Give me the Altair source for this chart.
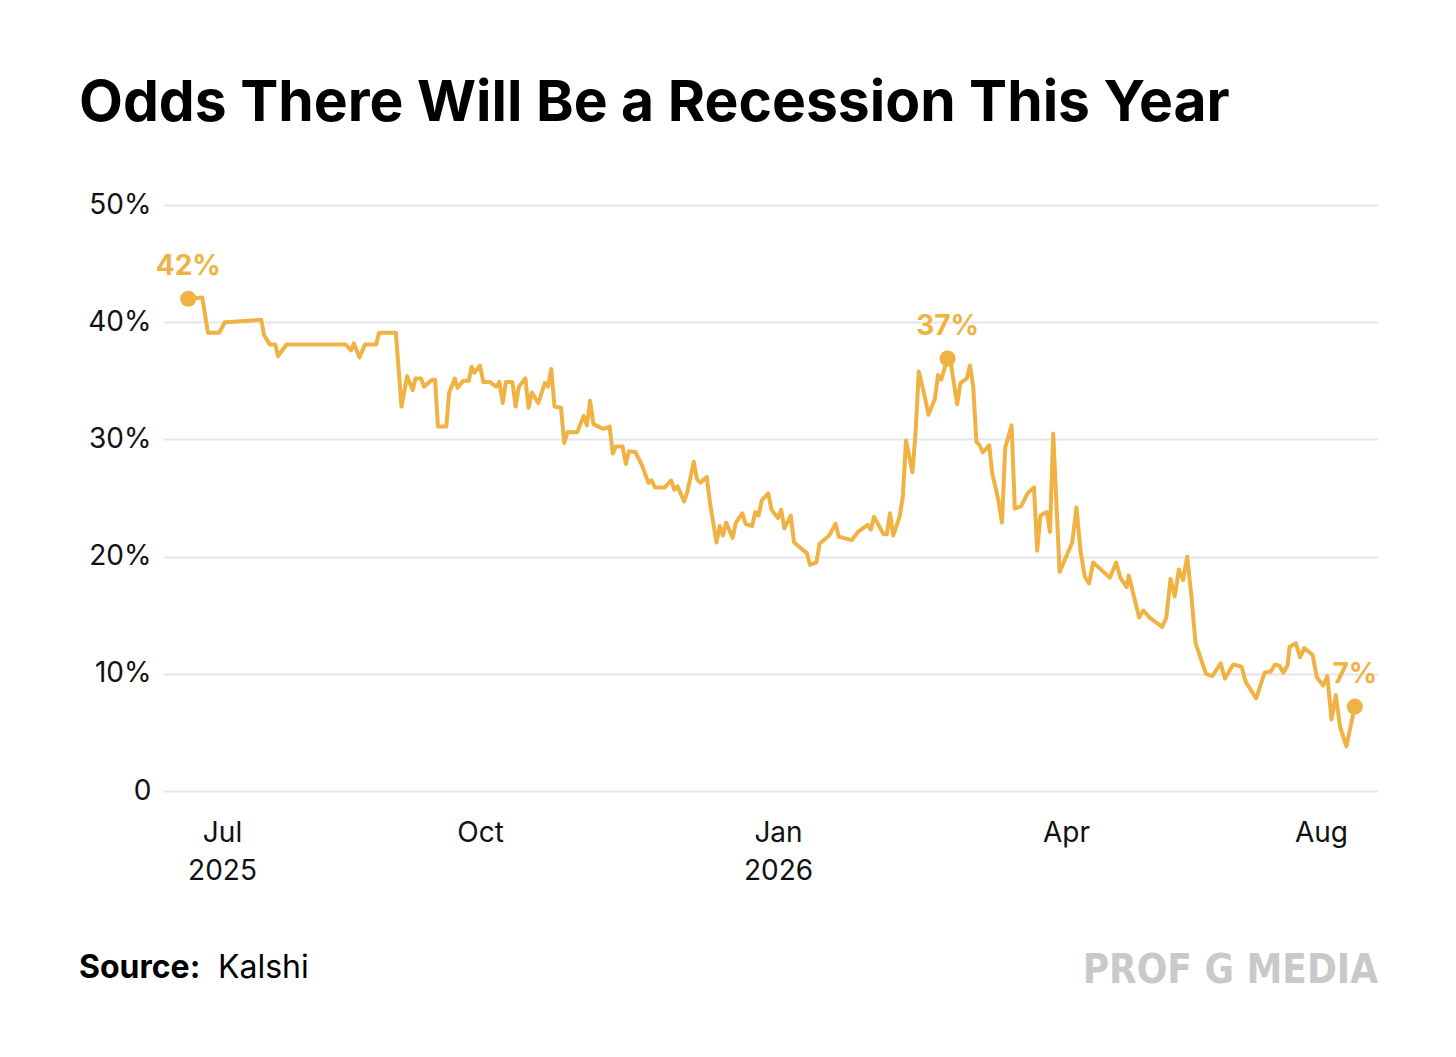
import altair as alt
import pandas as pd

dates = [
 "2025-06-19","2025-06-24","2025-06-26","2025-06-30","2025-07-02","2025-07-15","2025-07-16","2025-07-18","2025-07-20","2025-07-21",
 "2025-07-24","2025-08-14","2025-08-16","2025-08-17","2025-08-19","2025-08-21","2025-08-25","2025-08-26","2025-09-01","2025-09-03",
 "2025-09-05","2025-09-07","2025-09-08","2025-09-10","2025-09-11","2025-09-14","2025-09-15","2025-09-16","2025-09-19","2025-09-20",
 "2025-09-22","2025-09-23","2025-09-25","2025-09-27","2025-09-28","2025-09-29","2025-10-01","2025-10-02","2025-10-04","2025-10-06",
 "2025-10-07","2025-10-08","2025-10-09","2025-10-11","2025-10-12","2025-10-13","2025-10-15","2025-10-16","2025-10-17","2025-10-19",
 "2025-10-21","2025-10-22","2025-10-23","2025-10-24","2025-10-26","2025-10-27","2025-10-28","2025-10-31","2025-11-02","2025-11-03",
 "2025-11-04","2025-11-05","2025-11-08","2025-11-10","2025-11-11","2025-11-12","2025-11-14","2025-11-15","2025-11-16","2025-11-18",
 "2025-11-20","2025-11-22","2025-11-23","2025-11-24","2025-11-27","2025-11-29","2025-11-30","2025-12-01","2025-12-03","2025-12-04",
 "2025-12-06","2025-12-07","2025-12-08","2025-12-10","2025-12-11","2025-12-13","2025-12-14","2025-12-15","2025-12-16","2025-12-18",
 "2025-12-19","2025-12-21","2025-12-22","2025-12-24","2025-12-25","2025-12-26","2025-12-27","2025-12-29","2025-12-30",
 "2026-01-01","2026-01-02","2026-01-03","2026-01-05","2026-01-06","2026-01-10","2026-01-11","2026-01-13","2026-01-14","2026-01-17",
 "2026-01-19","2026-01-20","2026-01-24","2026-01-26","2026-01-29","2026-01-30","2026-01-31","2026-02-03","2026-02-04","2026-02-05",
 "2026-02-06","2026-02-08","2026-02-09","2026-02-10","2026-02-12","2026-02-13","2026-02-14","2026-02-16","2026-02-17","2026-02-19",
 "2026-02-20","2026-02-21","2026-02-23","2026-02-24","2026-02-26","2026-02-27","2026-03-01","2026-03-02","2026-03-03","2026-03-04",
 "2026-03-05","2026-03-06","2026-03-08","2026-03-09","2026-03-10","2026-03-11","2026-03-12","2026-03-13","2026-03-15","2026-03-16",
 "2026-03-18","2026-03-20","2026-03-22","2026-03-23","2026-03-24","2026-03-26","2026-03-27","2026-03-28","2026-03-30","2026-04-04",
 "2026-04-06","2026-04-08","2026-04-10","2026-04-12","2026-04-14","2026-04-22","2026-04-25","2026-04-27","2026-04-30","2026-05-01",
 "2026-05-06","2026-05-08","2026-05-11","2026-05-17","2026-05-19","2026-05-21","2026-05-23","2026-05-25","2026-05-27","2026-05-29",
 "2026-05-31","2026-06-02","2026-06-07","2026-06-10","2026-06-14","2026-06-16","2026-06-20","2026-06-24","2026-06-26","2026-07-01",
 "2026-07-05","2026-07-08","2026-07-10","2026-07-12","2026-07-14","2026-07-16","2026-07-17","2026-07-20","2026-07-22","2026-07-24",
 "2026-07-28","2026-07-30","2026-08-02","2026-08-04","2026-08-06","2026-08-08","2026-08-10","2026-08-13","2026-08-15","2026-08-17",
]
odds = [
 42.0,42.1,39.1,39.1,40.0,40.2,38.9,38.1,38.1,37.1,
 38.1,38.1,37.6,38.2,37.0,38.1,38.1,39.1,39.1,32.8,
 35.4,34.2,35.2,35.2,34.5,35.1,35.1,31.1,31.1,34.0,
 35.2,34.4,35.0,35.0,36.2,35.7,36.3,34.9,34.9,34.5,
 34.9,33.1,34.9,34.9,32.8,34.5,35.2,32.7,34.0,33.1,
 34.8,34.5,36.0,32.8,32.7,29.7,30.6,30.6,32.0,31.2,
 33.3,31.3,30.9,31.1,28.8,29.4,29.4,27.9,29.0,28.9,
 27.8,26.3,26.5,25.9,25.9,26.5,25.7,26.0,24.7,25.5,
 28.1,26.6,26.3,26.8,24.6,21.2,22.6,21.8,22.9,21.6,
 22.9,23.7,22.8,22.6,23.8,23.5,24.8,25.4,24.0,
 23.3,24.0,22.4,23.5,21.2,20.3,19.3,19.5,21.1,21.8,
 22.8,21.7,21.4,22.1,22.7,22.3,23.4,21.9,21.9,23.7,
 21.8,23.4,25.1,29.9,27.2,30.6,35.8,33.5,32.1,33.4,
 35.5,35.1,36.9,36.5,33.0,34.8,35.2,36.3,34.5,29.8,
 29.5,28.9,29.5,27.0,25.9,24.6,22.9,29.3,31.2,24.1,
 24.3,25.4,25.9,20.5,23.5,23.8,22.1,30.5,18.7,21.2,
 24.2,20.4,18.3,17.7,19.5,18.2,19.5,18.2,17.4,18.4,
 14.8,15.4,14.8,14.0,14.8,18.1,16.6,18.9,18.0,20.0,
 16.6,12.6,10.0,9.8,10.9,9.6,10.8,10.6,9.3,7.9,
 10.1,10.2,10.8,10.7,10.1,10.7,12.3,12.6,11.4,12.2,
 11.6,9.7,9.0,9.8,6.1,8.2,5.5,3.8,5.5,7.2,
]

hl_dates = ["2025-06-19", "2026-02-23", "2026-08-17"]
hl_values = [42.0, 36.9, 7.2]
hl_labels = ["42%", "37%", "7%"]
hl_dx = [4, 6, 6]

tick_dates = ["2025-07-01", "2025-10-01", "2026-01-01", "2026-04-01", "2026-08-01"]
scale_dates = ["2025-06-10"] + tick_dates + ["2026-08-28"]
scale_px = [0, 59, 317, 615, 903, 1158, 1215]

ORANGE = "#F0B243"
FONT = "Inter"

def ms(s):
    return int(pd.Timestamp(s, tz="UTC").value // 10**6)

df = pd.DataFrame({"t": [ms(d) for d in dates], "odds": odds, "i": range(len(dates))})
hl = pd.DataFrame({"t": [ms(d) for d in hl_dates], "odds": hl_values, "label": hl_labels, "dx": hl_dx})

xscale = alt.Scale(type="linear", domain=[ms(d) for d in scale_dates], range=scale_px,
                   nice=False, zero=False)

xaxis = alt.Axis(
    values=[ms(d) for d in tick_dates],
    labelExpr="utcmonth(datum.value)==6 ? ['Jul','2025'] : (utcmonth(datum.value)==0 ? ['Jan','2026'] : utcFormat(datum.value,'%b'))",
    grid=False, domain=False, ticks=False, labelPadding=28, labelFontSize=28,
    labelFont=FONT, labelColor="#111", labelLineHeight=38, title=None, labelBaseline="top",
)
yaxis = alt.Axis(
    values=[0, 10, 20, 30, 40, 50], labelExpr="datum.value==0 ? '0' : datum.value + '%'",
    grid=True, gridColor="#e6e6e6", gridWidth=2, domain=False, ticks=False,
    labelPadding=12, labelFontSize=28, labelFont=FONT, labelColor="#111", title=None,
)

x = alt.X("t:Q", scale=xscale, axis=xaxis)
y = alt.Y("odds:Q", scale=alt.Scale(domain=[0, 50], nice=False), axis=yaxis)

line = alt.Chart(df).mark_line(color=ORANGE, strokeWidth=4, strokeJoin="round").encode(
    x=x, y=y, order="i:Q")
pts = alt.Chart(hl).mark_circle(color=ORANGE, size=260, opacity=1).encode(x=x, y=y)
lbl = alt.Chart(hl).mark_text(color=ORANGE, font=FONT, fontSize=28, fontWeight="bold",
                              dy=-32, baseline="middle").encode(
    x=x, y=y, text="label:N", xOffset="dx:Q")

title = alt.Chart(pd.DataFrame({"t": ["Odds There Will Be a Recession This Year"]})).mark_text(
    font=FONT, fontSize=57, fontWeight="bold", align="left", baseline="alphabetic", color="#000"
).encode(x=alt.value(-84), y=alt.value(-84), text="t:N")

src = alt.Chart(pd.DataFrame({"t": ["Source:"]})).mark_text(
    font=FONT, fontSize=32, fontWeight="bold", align="left", baseline="alphabetic", color="#000"
).encode(x=alt.value(-84), y=alt.value(187 + 586), text="t:N")
src2 = alt.Chart(pd.DataFrame({"t": ["Kalshi"]})).mark_text(
    font=FONT, fontSize=32, align="left", baseline="alphabetic", color="#000"
).encode(x=alt.value(55), y=alt.value(187 + 586), text="t:N")
brand = alt.Chart(pd.DataFrame({"t": ["PROF G MEDIA"]})).mark_text(
    font="DejaVu Sans Condensed", fontSize=40, fontWeight="bold", align="right",
    baseline="alphabetic", color="#c9c9c9"
).encode(x=alt.value(1215), y=alt.value(192 + 586), text="t:N")

chart = alt.layer(line, pts, lbl, title, src, src2, brand).properties(
    width=1215, height=586,
    background="white",
    autosize=alt.AutoSizeParams(type="none"),
    padding={"left": 155, "top": 197, "right": 70, "bottom": 240},
).configure_view(stroke=None)

chart.save("out.html", embed_options={"renderer": "svg", "actions": False})
